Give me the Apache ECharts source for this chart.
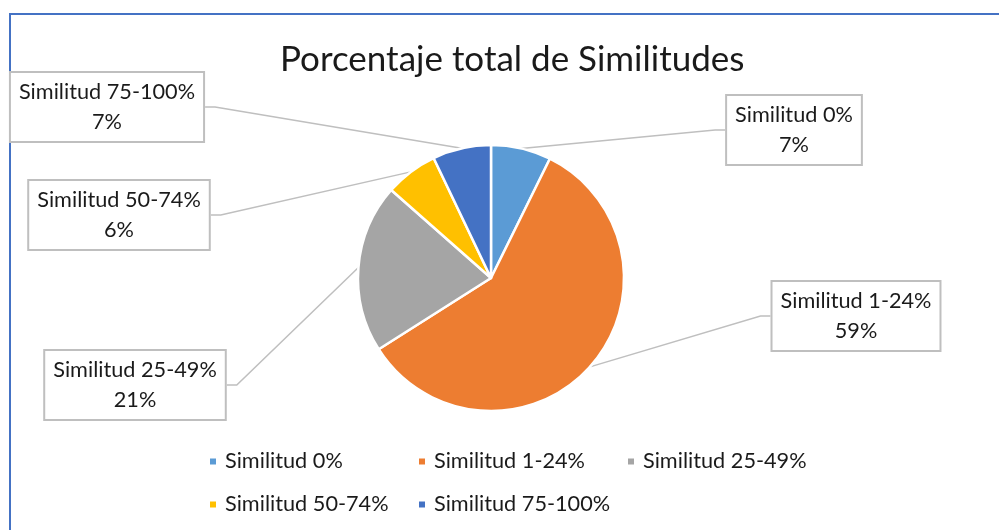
<!DOCTYPE html>
<html>
<head>
<meta charset="utf-8">
<script src="https://cdn.jsdelivr.net/npm/echarts@6/dist/echarts.min.js"></script>
<style>
  html, body { margin: 0; padding: 0; background: #fff; }
  #chart { width: 999px; height: 530px; }
</style>
</head>
<body>
<div id="chart"></div>
<script>
// data (shares of each similarity range)
const categories = ['Similitud 0%', 'Similitud 1-24%', 'Similitud 25-49%', 'Similitud 50-74%', 'Similitud 75-100%'];
const values = [7.3, 58.7, 20.5, 6.4, 7.1];

const colors = ['#5B9BD5', '#ED7D31', '#A5A5A5', '#FFC000', '#4472C4'];
// where each callout box sits (center of box)
const labelSpots = [[794, 130], [856, 316], [135, 385], [119, 215], [107, 107]];

const font = 'Lato, "Liberation Sans", sans-serif';
const myChart = echarts.init(document.getElementById('chart'), null, { renderer: 'canvas' });

const option = {
  backgroundColor: '#fff',
  color: colors,
  title: {
    text: 'Porcentaje total de Similitudes',
    left: 280,
    top: 42,
    padding: 0,
    textStyle: { fontFamily: font, fontSize: 35, fontWeight: 'normal', color: '#1a1a1a' }
  },
  graphic: [
    {
      type: 'rect',
      x: 10, y: 14,
      silent: true,
      shape: { x: 0, y: 0, width: 1100, height: 700 },
      style: { fill: 'none', stroke: '#4472C4', lineWidth: 2 }
    }
  ],
  legend: {
    left: 208,
    top: 445,
    width: 700,
    padding: 0,
    itemGap: 10,
    icon: 'rect',
    itemWidth: 8,
    itemHeight: 8,
    selectedMode: false,
    data: categories,
    textStyle: {
      fontFamily: font, fontSize: 21.7, color: '#1a1a1a',
      lineHeight: 33, width: 182, padding: [0, 0, 0, 3]
    }
  },
  series: [
    {
      type: 'pie',
      center: [491, 278],
      radius: 133,
      startAngle: 90,
      clockwise: true,
      percentPrecision: 0,
      itemStyle: { borderColor: '#fff', borderWidth: 2.5 },
      label: {
        show: true,
        formatter: '{b}\n{d}%',
        fontFamily: font,
        fontSize: 21.7,
        lineHeight: 30,
        color: '#1a1a1a',
        align: 'center',
        backgroundColor: '#fff',
        borderColor: '#bfbfbf',
        borderWidth: 2,
        padding: [4, 8, 4, 8]
      },
      labelLine: {
        show: true,
        length: 10,
        length2: 10,
        lineStyle: { color: '#bfbfbf', width: 1.5 }
      },
      labelLayout: function (params) {
        const p = labelSpots[params.dataIndex];
        return { x: p[0], y: p[1], align: 'center', verticalAlign: 'middle' };
      },
      emphasis: { scale: false },
      data: categories.map(function (c, i) { return { name: c, value: values[i] }; })
    }
  ]
};

myChart.setOption(option);
</script>
</body>
</html>
